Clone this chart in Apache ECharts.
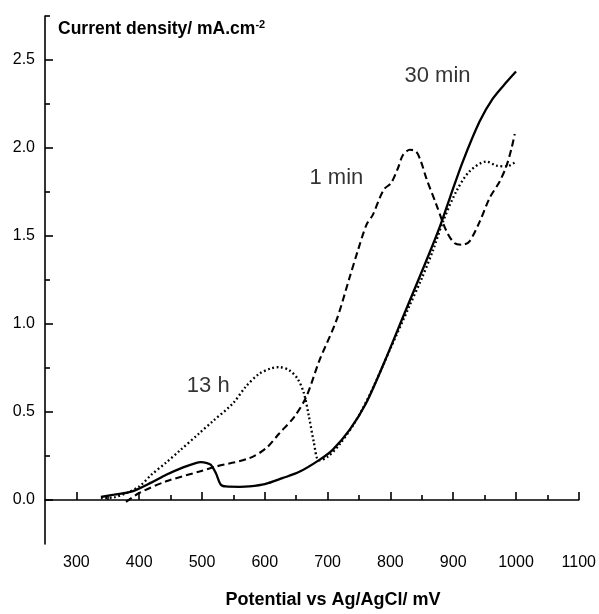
<!DOCTYPE html>
<html><head><meta charset="utf-8">
<script src="https://cdn.jsdelivr.net/npm/echarts@6/dist/echarts.min.js"></script>
<style>html,body{margin:0;padding:0;background:#fff}#c{width:599px;height:614px}</style>
</head><body><div id="c"></div>
<script>
// 30 min (solid)
var x30 = [339,360,389,420,443,470,490,498,508,514,522,530,538,560,575,600,628,655,687,708,735,761,790,822,857,878,895,915,942,963,985,1000];
var y30 = [0.017,0.03,0.049,0.10,0.143,0.185,0.21,0.215,0.21,0.20,0.153,0.087,0.077,0.075,0.077,0.09,0.124,0.16,0.228,0.285,0.398,0.548,0.78,1.057,1.358,1.546,1.72,1.92,2.15,2.28,2.375,2.435];
// 1 min (dashed)
var x1 = [379,400,443,496,522,575,602,623,647,666,687,714,735,748,762,772,783,791,801,812,820,831,841,849,857,873,889,902,915,926,942,958,974,985,993,998];
var y1 = [-0.011,0.04,0.106,0.162,0.19,0.237,0.294,0.378,0.473,0.586,0.793,1.02,1.264,1.415,1.565,1.62,1.716,1.77,1.80,1.885,1.96,1.99,1.98,1.92,1.83,1.68,1.53,1.46,1.45,1.47,1.58,1.716,1.81,1.90,2.0,2.08];
// 13 h (dotted)
var x13 = [339,360,380,400,420,443,464,496,517,549,570,591,610,623,639,652,662,670,678,686,700,720,745,770,800,830,850,868,884,905,926,953,969,985,1000];
var y13 = [0.011,0.015,0.04,0.077,0.145,0.213,0.279,0.38,0.447,0.548,0.645,0.717,0.748,0.755,0.737,0.69,0.61,0.48,0.33,0.225,0.245,0.32,0.45,0.62,0.86,1.1,1.26,1.42,1.584,1.754,1.867,1.923,1.90,1.895,1.923];
var xMajor = [300,400,500,600,700,800,900,1000,1100];
var xMinor = [350,450,550,650,750,850,950,1050];
var yMajor = [0,0.5,1.0,1.5,2.0,2.5];
var yMinor = [0.25,0.75,1.25,1.75,2.25,2.75];
var curveNames = ['30 min','1 min','13 h'];
var labelX = [875,714,510];
var labelY = [2.41,1.83,0.65];

function pairs(xs, ys){ return xs.map(function(v,i){ return [v, ys[i]]; }); }

var FONT = 'Liberation Sans, Arial, sans-serif';
var axisLineStyle = {color:'#000', width:1.6};
var chart = echarts.init(document.getElementById('c'));
chart.setOption({
  backgroundColor:'#fff',
  animation:false,
  title:{
    text:'{b|Current density/ mA.cm}{s|-2}',
    left:58, top:19, padding:0,
    textStyle:{rich:{
      b:{fontFamily:FONT,fontWeight:'bold',fontSize:17.5,color:'#000'},
      s:{fontFamily:FONT,fontWeight:'bold',fontSize:11,color:'#000',verticalAlign:'top',padding:[0,0,9,0]}
    }}
  },
  grid:{left:45,right:20,top:16,bottom:66,containLabel:false},
  xAxis:[{
    type:'value',min:250,max:1100,position:'bottom',offset:0,
    axisLine:{show:true,lineStyle:axisLineStyle},
    axisTick:{show:true,inside:true,length:8,customValues:xMajor,lineStyle:{color:'#000',width:1.6}},
    axisLabel:{customValues:xMajor,fontFamily:FONT,fontSize:16,color:'#000',margin:11,
      formatter:function(v){return String(v);}},
    splitLine:{show:false},
    name:'Potential vs Ag/AgCl/ mV',nameLocation:'middle',nameGap:47,
    nameTextStyle:{fontFamily:FONT,fontWeight:'bold',fontSize:18,color:'#000',padding:[0,0,0,42]}
  },{
    type:'value',min:250,max:1100,position:'bottom',offset:0,
    axisLine:{show:false},
    axisTick:{show:true,inside:true,length:5,customValues:xMinor,lineStyle:{color:'#000',width:1.6}},
    axisLabel:{show:false},splitLine:{show:false}
  }],
  yAxis:[{
    type:'value',min:-0.25,max:2.75,position:'left',offset:0,
    axisLine:{show:true,lineStyle:axisLineStyle},
    axisTick:{show:true,inside:true,length:8,customValues:yMajor,lineStyle:{color:'#000',width:1.6}},
    axisLabel:{customValues:yMajor,fontFamily:FONT,fontSize:16,color:'#000',margin:10,
      formatter:function(v){return v.toFixed(1);}},
    splitLine:{show:false}
  },{
    type:'value',min:-0.25,max:2.75,position:'left',offset:0,
    axisLine:{show:false},
    axisTick:{show:true,inside:true,length:5,customValues:yMinor,lineStyle:{color:'#000',width:1.6}},
    axisLabel:{show:false},splitLine:{show:false}
  }],
  series:[
    {type:'line',name:curveNames[0],data:pairs(x30,y30),showSymbol:false,smooth:0.3,
      lineStyle:{color:'#000',width:2.3,type:'solid'}},
    {type:'line',name:curveNames[1],data:pairs(x1,y1),showSymbol:false,smooth:0.3,
      lineStyle:{color:'#000',width:2.1,type:[7,4]}},
    {type:'line',name:curveNames[2],data:pairs(x13,y13),showSymbol:false,smooth:0.3,
      lineStyle:{color:'#000',width:2.3,type:[1.8,2.6]}},
    {type:'scatter',symbolSize:0,silent:true,
      data:curveNames.map(function(n,i){return {value:[labelX[i],labelY[i]],name:n};}),
      label:{show:true,position:'inside',formatter:'{b}',fontFamily:FONT,fontSize:22,color:'#000'}}
  ]
});
</script></body></html>
